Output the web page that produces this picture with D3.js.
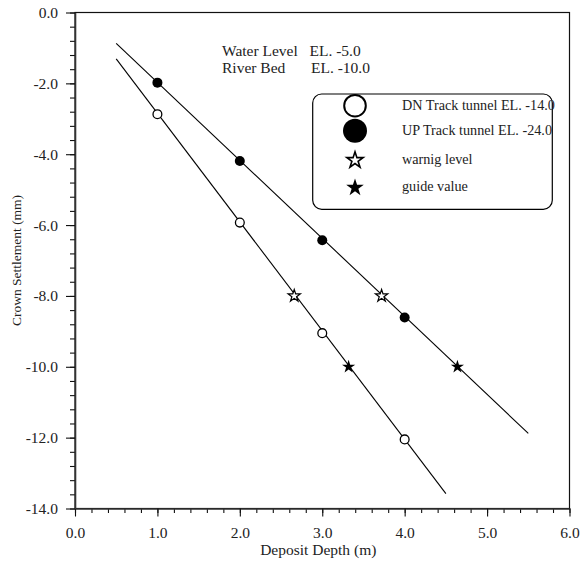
<!DOCTYPE html>
<html>
<head>
<meta charset="utf-8">
<script src="https://cdn.jsdelivr.net/npm/d3@7"></script>
<style>
  body { margin: 0; background: #fff; }
  svg { display: block; font-family: "Liberation Serif", "Times New Roman", serif; }
</style>
</head>
<body>
<svg id="chart" width="580" height="563"></svg>
<script>
// measured points (deposit depth vs crown settlement)
const depths = [1, 2, 3, 4];
const dnSettle = [-2.87, -5.93, -9.05, -12.05];
const upSettle = [-1.98, -4.19, -6.43, -8.61];

// fitted lines, end points
const dnFitX = [0.5, 4.5];
const dnFitY = [-1.31, -13.58];
const upFitX = [0.5, 5.5];
const upFitY = [-0.87, -11.88];

// warning level (-8.0) and guide value (-10.0) crossings
const warnX = [2.66, 3.72];
const warnY = -8.0;
const guideX = [3.32, 4.64];
const guideY = -10.0;

const xMajor = [0, 1, 2, 3, 4, 5, 6];
const yMajor = [0, -2, -4, -6, -8, -10, -12, -14];

const legendLabels = ["DN Track tunnel EL. -14.0", "UP Track tunnel EL. -24.0", "warnig level", "guide value"];
const noteLines = [["Water Level", "EL. -5.0"], ["River Bed", "EL. -10.0"]];

const svg = d3.select("#chart");
const x = d3.scaleLinear().domain([0, 6]).range([75, 569.5]);
const y = d3.scaleLinear().domain([-14, 0]).range([508.5, 12.5]);
const fmt = d => d.toFixed(1);   // plain hyphen, not the unicode minus

// frame (top + right)
svg.append("rect")
    .attr("x", x(0)).attr("y", y(0))
    .attr("width", x(6) - x(0)).attr("height", y(-14) - y(0))
    .attr("fill", "none").attr("stroke", "#111").attr("stroke-width", 1.2);

// minor ticks
const xMinor = d3.range(0, 6.001, 0.2).map(v => +v.toFixed(1));
const yMinor = d3.range(-14, 0.001, 0.4).map(v => +v.toFixed(1));

svg.append("g")
    .attr("transform", `translate(0,${y(-14)})`)
    .call(d3.axisBottom(x).tickValues(xMinor).tickSize(4.5).tickFormat(""))
    .call(g => g.select(".domain").remove());
svg.append("g")
    .attr("transform", `translate(${x(0)},0)`)
    .call(d3.axisLeft(y).tickValues(yMinor).tickSize(5).tickFormat(""))
    .call(g => g.select(".domain").remove());

// major axes
svg.append("g")
    .attr("transform", `translate(0,${y(-14)})`)
    .call(d3.axisBottom(x).tickValues(xMajor).tickSize(8).tickSizeOuter(0).tickPadding(10).tickFormat(fmt));
svg.append("g")
    .attr("transform", `translate(${x(0)},0)`)
    .call(d3.axisLeft(y).tickValues(yMajor).tickSize(9).tickSizeOuter(0).tickPadding(8).tickFormat(fmt));

svg.selectAll(".domain").attr("stroke", "#333").attr("stroke-width", 1.6);
svg.selectAll(".tick line").attr("stroke", "#111").attr("stroke-width", 1.1);
svg.selectAll(".tick text")
    .attr("font-family", "'Liberation Serif', 'Times New Roman', serif")
    .attr("font-size", 15.5).attr("fill", "#222");

// axis titles
svg.append("text")
    .attr("x", (x(0) + x(6)) / 2 - 4).attr("y", 554.5)
    .attr("text-anchor", "middle").attr("font-size", 15.5).attr("fill", "#222")
    .text("Deposit Depth (m)");
svg.append("text")
    .attr("transform", `translate(21,${(y(0) + y(-14)) / 2}) rotate(-90)`)
    .attr("text-anchor", "middle").attr("font-size", 13.5).attr("fill", "#222")
    .text("Crown Settlement (mm)");

// fitted lines
const line = d3.line().x(d => x(d[0])).y(d => y(d[1]));
[[dnFitX, dnFitY], [upFitX, upFitY]].forEach(([xs, ys]) => {
  svg.append("path")
      .datum(xs.map((v, i) => [v, ys[i]]))
      .attr("d", line)
      .attr("fill", "none").attr("stroke", "#000").attr("stroke-width", 1.1);
});

// measured points
svg.append("g").selectAll("circle")
    .data(depths.map((d, i) => [d, dnSettle[i]]))
    .join("circle")
    .attr("cx", d => x(d[0])).attr("cy", d => y(d[1])).attr("r", 4.4)
    .attr("fill", "#fff").attr("stroke", "#000").attr("stroke-width", 1.3);
svg.append("g").selectAll("circle")
    .data(depths.map((d, i) => [d, upSettle[i]]))
    .join("circle")
    .attr("cx", d => x(d[0])).attr("cy", d => y(d[1])).attr("r", 5)
    .attr("fill", "#000");

// stars
svg.append("g").selectAll("path")
    .data(warnX)
    .join("path")
    .attr("transform", d => `translate(${x(d)},${y(warnY)})`)
    .attr("d", d3.symbol(d3.symbolStar, 46))
    .attr("fill", "#fff").attr("stroke", "#000").attr("stroke-width", 1.2);
svg.append("g").selectAll("path")
    .data(guideX)
    .join("path")
    .attr("transform", d => `translate(${x(d)},${y(guideY)})`)
    .attr("d", d3.symbol(d3.symbolStar, 54))
    .attr("fill", "#000");

// water level / river bed note
const note = svg.append("g").attr("font-size", 15.5).attr("fill", "#222");
noteLines.forEach((row, i) => {
  note.append("text").attr("x", 222).attr("y", 55.5 + i * 17.8).text(row[0]);
  note.append("text").attr("x", i === 0 ? 309.5 : 311).attr("y", 55.5 + i * 17.8).text(row[1]);
});

// legend
const legend = svg.append("g");
legend.append("rect")
    .attr("x", 312.7).attr("y", 94).attr("width", 239.6).attr("height", 115.3)
    .attr("rx", 9).attr("fill", "#fff").attr("stroke", "#000").attr("stroke-width", 1.2);
const rowY = [105.7, 130.7, 159.3, 186.7];
const lx = 355;
legend.append("circle").attr("cx", lx).attr("cy", rowY[0]).attr("r", 10.8)
    .attr("fill", "#fff").attr("stroke", "#000").attr("stroke-width", 2);
legend.append("circle").attr("cx", lx).attr("cy", rowY[1]).attr("r", 12).attr("fill", "#000");
legend.append("path").attr("transform", `translate(${lx},${rowY[2] + 1})`)
    .attr("d", d3.symbol(d3.symbolStar, 82))
    .attr("fill", "#fff").attr("stroke", "#000").attr("stroke-width", 1.6);
legend.append("path").attr("transform", `translate(${lx},${rowY[3] + 1})`)
    .attr("d", d3.symbol(d3.symbolStar, 96))
    .attr("fill", "#000");
legend.selectAll("text.lab")
    .data(legendLabels)
    .join("text")
    .attr("class", "lab")
    .attr("x", 402).attr("y", (d, i) => rowY[i] + 4.5)
    .attr("font-size", 14.2).attr("fill", "#222")
    .text(d => d);
</script>
</body>
</html>
